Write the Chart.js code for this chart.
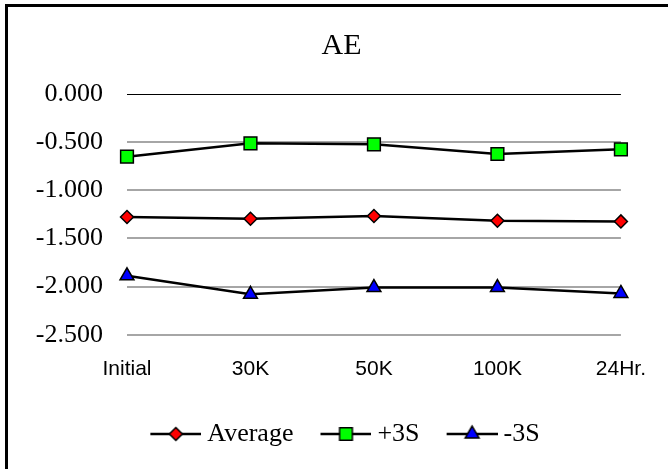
<!DOCTYPE html>
<html>
<head>
<meta charset="utf-8">
<script src="https://cdn.jsdelivr.net/npm/chart.js@4"></script>
<style>
    html, body { margin: 0; padding: 0; background: #fff; overflow: hidden; }
    #wrap { position: absolute; left: 0; top: 0; width: 668px; height: 469px; }
    #frame { position: absolute; left: 5px; top: 4px; width: 700px; height: 520px; border: 3px solid #000; pointer-events: none; }
</style>
</head>
<body>
<div id="wrap"><canvas id="aeChart"></canvas></div>
<div id="frame"></div>
<script>
// Chart data
const categories = ['Initial', '30K', '50K', '100K', '24Hr.'];
const averageValues = [-1.277, -1.295, -1.267, -1.316, -1.323];
const plus3sValues = [-0.651, -0.512, -0.522, -0.623, -0.574];
const minus3sValues = [-1.888, -2.08, -2.01, -2.01, -2.07];
const yTicks = [0, -0.5, -1.0, -1.5, -2.0, -2.5];

const seriesNames = ['Average', '+3S', '-3S'];
const seriesColors = ['#ff0000', '#00ff00', '#0000ff'];
const seriesStyles = ['rectRot', 'rect', 'triangle'];
const seriesRadius = [6.5, 9, 8];

/**
 * Legend icon: short black line with the marker on it
 */
function makeLegendIcon(style, color, radius) {
    const c = document.createElement('canvas');
    c.width = 58;
    c.height = 20;
    const ctx = c.getContext('2d');
    ctx.strokeStyle = '#000';
    ctx.lineWidth = 2.5;
    ctx.beginPath();
    ctx.moveTo(7, 10);
    ctx.lineTo(58, 10);
    ctx.stroke();
    ctx.fillStyle = color;
    ctx.strokeStyle = '#000';
    ctx.lineWidth = 1.5;
    Chart.helpers.drawPoint(ctx, { pointStyle: style, radius: radius, borderWidth: 1.5, rotation: 0 }, 32.5, 10);
    return c;
}

const legendIcons = seriesNames.map((n, i) => makeLegendIcon(seriesStyles[i], seriesColors[i], seriesRadius[i]));

function makeDataset(i, values) {
    return {
        label: seriesNames[i],
        data: values,
        borderColor: '#000',
        borderWidth: 2.5,
        backgroundColor: seriesColors[i],
        pointStyle: seriesStyles[i],
        pointRadius: seriesRadius[i],
        pointHoverRadius: seriesRadius[i],
        pointBackgroundColor: seriesColors[i],
        pointBorderColor: '#000',
        pointBorderWidth: 1.5,
        tension: 0,
        clip: false
    };
}

// title and legend sit a bit right of the canvas centre in the original
const shiftBoxes = {
    id: 'shiftBoxes',
    afterLayout(chart) {
        chart.titleBlock.left += 31;
        chart.titleBlock.right += 31;
        chart.legend.left += 34.5;
        chart.legend.right += 34.5;
    }
};

const ctx = document.getElementById('aeChart').getContext('2d');
const aeChart = new Chart(ctx, {
    type: 'line',
    data: {
        labels: categories,
        datasets: [
            makeDataset(0, averageValues),
            makeDataset(1, plus3sValues),
            makeDataset(2, minus3sValues)
        ]
    },
    options: {
        responsive: true,
        maintainAspectRatio: false,
        animation: false,
        layout: { padding: { left: 0, right: 47, top: 0, bottom: 12 } },
        scales: {
            x: {
                offset: false,
                afterFit: (scale) => { scale.height = scale.height - 10; },
                grid: { display: false, drawTicks: false },
                border: { display: false },
                ticks: {
                    color: '#000',
                    padding: 22,
                    maxRotation: 0,
                    font: { family: '"Liberation Sans", Arial, sans-serif', size: 21 }
                }
            },
            y: {
                min: -2.5,
                max: 0,
                afterFit: (scale) => { scale.width = 127; },
                afterBuildTicks: (scale) => { scale.ticks = yTicks.map(v => ({ value: v })); },
                grid: {
                    drawTicks: false,
                    color: (c) => (c.tick && c.tick.value === 0 ? '#000' : '#a6a6a6'),
                    lineWidth: (c) => (c.tick && c.tick.value === 0 ? 1 : 2)
                },
                border: { display: false },
                ticks: {
                    color: '#000',
                    padding: 24,
                    font: { family: '"Liberation Serif", "Times New Roman", serif', size: 26 },
                    callback: (v) => Number(v).toFixed(3)
                }
            }
        },
        plugins: {
            title: {
                display: true,
                text: 'AE',
                color: '#000',
                font: { family: '"Liberation Serif", "Times New Roman", serif', size: 30, weight: 'normal', lineHeight: 1.2 },
                padding: { top: 28, bottom: 30 }
            },
            legend: {
                position: 'bottom',
                labels: {
                    usePointStyle: true,
                    pointStyleWidth: 44,
                    padding: 27,
                    color: '#000',
                    font: { family: '"Liberation Serif", "Times New Roman", serif', size: 26 },
                    generateLabels: (chart) => Chart.defaults.plugins.legend.labels.generateLabels(chart)
                        .map((item, i) => ({ ...item, pointStyle: legendIcons[i], rotation: 0 }))
                }
            },
            tooltip: { enabled: false }
        }
    },
    plugins: [shiftBoxes]
});
</script>
</body>
</html>
